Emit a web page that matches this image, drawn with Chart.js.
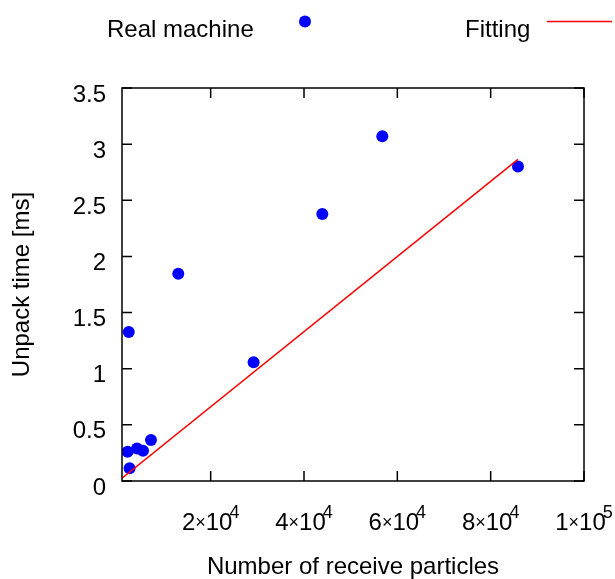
<!DOCTYPE html>
<html>
<head>
<meta charset="utf-8">
<title>Unpack time</title>
<script src="https://cdn.jsdelivr.net/npm/chart.js@4/dist/chart.umd.min.js"></script>
<style>
  html, body { margin: 0; padding: 0; background: #fff; }
  #unpackChart { display: block; }
</style>
</head>
<body>
<canvas id="unpackChart" width="615" height="579"></canvas>
<script>
const particleCounts = [2200, 2630, 2450, 4210, 5500, 7210, 13060, 29200, 43920, 56780, 85850];
const unpackTimes = [0.26, 0.113, 1.327, 0.29, 0.27, 0.365, 1.846, 1.057, 2.378, 3.07, 2.80];

// Fitted line, its two ends
const fitX = [1000, 85850];
const fitY = [0.025, 2.865];

// Axis ticks
const xTickValues = [20000, 40000, 60000, 80000, 100000];
const xTickLabels = ['2×10^4', '4×10^4', '6×10^4', '8×10^4', '1×10^5'];
const yTickStep = 0.5;

const FONT = "'Liberation Sans', Arial, sans-serif";
const TICK_LEN = 10;

// gnuplot look: closed frame, ticks pointing inward on all four sides,
// x labels with superscript exponent, and the key along the top
const gnuplotFrame = {
    id: 'gnuplotFrame',
    afterDraw(chart) {
        const { ctx, chartArea: a, scales } = chart;
        ctx.save();
        ctx.strokeStyle = '#000';
        ctx.lineWidth = 1.5;
        ctx.strokeRect(a.left, a.top, a.right - a.left, a.bottom - a.top);

        ctx.beginPath();
        xTickValues.forEach(v => {
            const px = scales.x.getPixelForValue(v);
            ctx.moveTo(px, a.bottom);
            ctx.lineTo(px, a.bottom - TICK_LEN);
            ctx.moveTo(px, a.top);
            ctx.lineTo(px, a.top + TICK_LEN);
        });
        scales.y.ticks.forEach(t => {
            const py = scales.y.getPixelForValue(t.value);
            ctx.moveTo(a.left, py);
            ctx.lineTo(a.left + TICK_LEN, py);
            ctx.moveTo(a.right, py);
            ctx.lineTo(a.right - TICK_LEN, py);
        });
        ctx.stroke();

        // x tick labels: mantissa×10 then raised exponent (tucked in a bit, like gnuplot)
        ctx.fillStyle = '#000';
        ctx.textBaseline = 'alphabetic';
        ctx.textAlign = 'left';
        xTickValues.forEach((v, i) => {
            const parts = xTickLabels[i].split('^');
            const pieces = parts[0].split('×');
            ctx.font = '24px ' + FONT;
            const wLead = ctx.measureText(pieces[0]).width;
            const wTen = ctx.measureText(pieces[1]).width;
            ctx.font = '18px ' + FONT;
            const wTimes = ctx.measureText('×').width;
            const wExp = ctx.measureText(parts[1]).width;
            const total = wLead + wTimes + wTen + wExp - 3;
            const px = scales.x.getPixelForValue(v);
            let cx = px - total / 2;
            ctx.font = '24px ' + FONT;
            ctx.fillText(pieces[0], cx, 530);
            cx += wLead;
            ctx.font = '18px ' + FONT;
            ctx.fillText('×', cx, 528);
            cx += wTimes;
            ctx.font = '24px ' + FONT;
            ctx.fillText(pieces[1], cx, 530);
            cx += wTen - 3;
            ctx.font = '18px ' + FONT;
            ctx.fillText(parts[1], cx, 518);
        });

        // key
        const pts = chart.data.datasets[1];
        const fit = chart.data.datasets[0];
        ctx.font = '24px ' + FONT;
        ctx.fillText(pts.label, 107, 37);
        ctx.fillText(fit.label, 465, 37);
        ctx.fillStyle = pts.backgroundColor;
        ctx.beginPath();
        ctx.arc(305, 21.5, pts.pointRadius, 0, Math.PI * 2);
        ctx.fill();
        ctx.strokeStyle = fit.borderColor;
        ctx.lineWidth = fit.borderWidth;
        ctx.beginPath();
        ctx.moveTo(547, 21.5);
        ctx.lineTo(612, 21.5);
        ctx.stroke();
        ctx.restore();
    }
};

document.addEventListener('DOMContentLoaded', function() {
    renderChart();
});

function renderChart() {
    const ctx = document.getElementById('unpackChart').getContext('2d');

    new Chart(ctx, {
        type: 'scatter',
        data: {
            datasets: [
                {
                    label: 'Fitting',
                    data: fitX.map((x, i) => ({ x: x, y: fitY[i] })),
                    showLine: true,
                    borderColor: '#ff0000',
                    borderWidth: 1.5,
                    pointRadius: 0,
                    order: 0
                },
                {
                    label: 'Real machine',
                    data: particleCounts.map((x, i) => ({ x: x, y: unpackTimes[i] })),
                    backgroundColor: '#0000ff',
                    borderWidth: 0,
                    pointRadius: 6,
                    order: 1
                }
            ]
        },
        plugins: [gnuplotFrame],
        options: {
            responsive: false,
            animation: false,
            devicePixelRatio: 1,
            layout: { padding: { left: 0, top: 88, right: 31, bottom: 0 } },
            plugins: {
                legend: { display: false },
                tooltip: { enabled: false }
            },
            scales: {
                x: {
                    type: 'linear',
                    min: 1000,
                    max: 100000,
                    grid: { display: false, drawTicks: false },
                    border: { display: false },
                    ticks: { display: false },
                    title: {
                        display: true,
                        text: 'Number of receive particles',
                        color: '#000',
                        font: { family: FONT, size: 24 },
                        padding: { top: 0, bottom: -3 }
                    },
                    afterFit: scale => { scale.height = 98; }
                },
                y: {
                    min: 0,
                    max: 3.5,
                    grid: { display: false, drawTicks: false },
                    border: { display: false },
                    ticks: {
                        stepSize: yTickStep,
                        padding: 16,
                        labelOffset: 7,
                        color: '#000',
                        font: { family: FONT, size: 24 },
                        callback: v => String(v)
                    },
                    title: {
                        display: true,
                        text: 'Unpack time [ms]',
                        color: '#000',
                        font: { family: FONT, size: 24 },
                        padding: { top: 8, bottom: 0 }
                    },
                    afterFit: scale => { scale.width = 122; }
                }
            }
        }
    });
}
</script>
</body>
</html>
